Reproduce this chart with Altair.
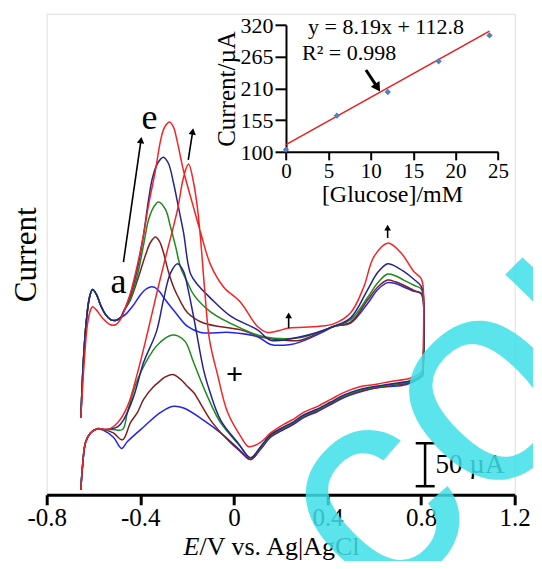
import altair as alt
import pandas as pd

FONT = "Liberation Serif"

# ---------------- main cyclic voltammograms (E in V vs Ag|AgCl, I in µA, arbitrary zero) ----
dark_start_E = [-0.654, -0.643, -0.630, -0.617, -0.604, -0.587, -0.570, -0.549, -0.527, -0.506, -0.485]
dark_start_I = [-137, -70, -23, 3, 12, 6, -6, -17, -23, -24, -21]
red_start_E = [-0.654, -0.639, -0.626, -0.613, -0.604, -0.587, -0.562, -0.527, -0.506, -0.485]
red_start_I = [-137, -70, -29, -12, -8, -12, -21, -29, -29, -23]
end_E = [-0.583, -0.613, -0.634, -0.647, -0.654]
end_I = [-150, -155, -166, -194, -221]

a_fwd_E = [-0.463, -0.429, -0.399, -0.378, -0.356, -0.335, -0.313, -0.301, -0.249, -0.198, -0.142, -0.014, 0.101, 0.157, 0.243, 0.285, 0.384, 0.426, 0.499, 0.572, 0.615, 0.657, 0.690, 0.726, 0.769, 0.800, 0.809]
a_fwd_I = [-17, -6, 6, 12, 15, 14, 8, 3, -15, -31, -38, -38, -43, -52, -52, -49, -37, -31, -27, -4, 12, 20, 19, 15, 10, 8, 0]
a_rev_E = [0.809, 0.806, 0.794, 0.756, 0.713, 0.670, 0.615, 0.542, 0.469, 0.414, 0.358, 0.298, 0.255, 0.213, 0.157, 0.114, 0.071, 0.029, -0.043, -0.130, -0.215, -0.258, -0.313, -0.386, -0.455, -0.480, -0.515, -0.557]
a_rev_I = [-80, -89, -91, -97, -100, -101, -102, -107, -114, -122, -130, -137, -145, -151, -160, -174, -186, -176, -158, -140, -126, -124, -131, -148, -165, -173, -160, -152]

b_fwd_E = [-0.472, -0.442, -0.412, -0.378, -0.356, -0.335, -0.318, -0.301, -0.280, -0.258, -0.228, -0.198, -0.130, 0.029, 0.127, 0.213, 0.285, 0.426, 0.499, 0.572, 0.615, 0.657, 0.690, 0.726, 0.769, 0.800, 0.809]
b_fwd_I = [-14, 0, 23, 52, 67, 73, 68, 55, 33, 15, -2, -15, -27, -35, -44, -47, -47, -31, -26, 0, 15, 23, 21, 17, 11, 7, -1]
b_rev_E = [0.809, 0.806, 0.756, 0.670, 0.542, 0.469, 0.414, 0.358, 0.298, 0.255, 0.213, 0.157, 0.114, 0.071, 0.029, -0.027, -0.100, -0.172, -0.198, -0.230, -0.262, -0.295, -0.326, -0.343, -0.386, -0.412, -0.442, -0.476, -0.515, -0.557]
b_rev_I = [-79, -88, -96, -100, -106, -113, -121, -129, -136, -144, -150, -159, -173, -186, -177, -163, -140, -108, -101, -92, -87, -90, -97, -101, -116, -131, -143, -163, -155, -151]

c_fwd_E = [-0.472, -0.442, -0.412, -0.386, -0.365, -0.343, -0.322, -0.292, -0.271, -0.249, -0.228, -0.198, -0.172, -0.100, 0.029, 0.127, 0.285, 0.426, 0.499, 0.572, 0.615, 0.657, 0.690, 0.726, 0.769, 0.800, 0.809]
c_fwd_I = [-14, 2, 29, 64, 93, 108, 114, 105, 85, 62, 38, 20, 6, -14, -33, -43, -44, -31, -23, 3, 20, 30, 28, 23, 17, 13, 5]
c_rev_E = [0.809, 0.806, 0.756, 0.670, 0.542, 0.469, 0.414, 0.358, 0.298, 0.255, 0.213, 0.157, 0.114, 0.071, 0.029, -0.057, -0.112, -0.172, -0.207, -0.240, -0.262, -0.290, -0.313, -0.343, -0.412, -0.455, -0.476, -0.515, -0.557]
c_rev_I = [-78, -87, -95, -99, -105, -112, -120, -128, -135, -143, -149, -158, -172, -184, -171, -143, -113, -73, -49, -42, -41, -44, -49, -58, -93, -131, -151, -151, -151]

d_fwd_E = [-0.472, -0.442, -0.412, -0.386, -0.365, -0.348, -0.326, -0.301, -0.280, -0.258, -0.237, -0.215, -0.185, -0.150, -0.100, -0.014, 0.101, 0.157, 0.285, 0.426, 0.499, 0.572, 0.615, 0.657, 0.690, 0.726, 0.769, 0.800, 0.809]
d_fwd_I = [-14, 6, 37, 76, 116, 142, 159, 166, 159, 136, 108, 78, 30, 16, 2, -19, -35, -47, -43, -31, -21, 12, 32, 42, 39, 33, 24, 16, 8]
d_rev_E = [0.809, 0.806, 0.756, 0.670, 0.542, 0.469, 0.414, 0.358, 0.298, 0.255, 0.213, 0.157, 0.114, 0.071, 0.016, -0.057, -0.112, -0.130, -0.172, -0.198, -0.215, -0.241, -0.271, -0.301, -0.331, -0.386, -0.429, -0.472, -0.497, -0.557]
d_rev_I = [-77, -86, -94, -98, -104, -111, -119, -127, -134, -142, -148, -157, -171, -184, -166, -140, -99, -81, -20, 15, 33, 42, 31, 0, -37, -73, -113, -140, -148, -151]

e_fwd_E = [-0.472, -0.442, -0.412, -0.386, -0.365, -0.335, -0.313, -0.296, -0.275, -0.258, -0.245, -0.215, -0.177, -0.142, -0.100, -0.044, 0.029, 0.101, 0.144, 0.190, 0.230, 0.300, 0.358, 0.426, 0.499, 0.555, 0.598, 0.657, 0.713, 0.769, 0.800, 0.808]
e_fwd_I = [-15, 8, 41, 76, 110, 151, 186, 201, 207, 201, 188, 150, 112, 78, 41, 15, -3, -31, -38, -36, -33, -32, -31, -28, -15, 15, 50, 66, 55, 33, 25, 17]
e_rev_E = [0.807, 0.804, 0.756, 0.670, 0.615, 0.542, 0.469, 0.414, 0.358, 0.298, 0.255, 0.213, 0.157, 0.114, 0.063, 0.029, -0.027, -0.070, -0.104, -0.125, -0.142, -0.155, -0.172, -0.194, -0.215, -0.241, -0.284, -0.326, -0.369, -0.412, -0.455, -0.497, -0.540]
e_rev_I = [-74, -83, -91, -95, -98, -101, -108, -116, -124, -131, -139, -145, -155, -166, -171, -159, -131, -87, -47, 12, 70, 105, 136, 158, 143, 105, 58, 12, -38, -85, -124, -143, -151]

curve_names = ["a", "b", "c", "d", "e"]
curve_colors = ["#2424F2", "#7E2020", "#1F8A1F", "#24248F", "#F52424"]

x_ticks = [-0.8, -0.4, 0, 0.4, 0.8, 1.2]
x_domain = [-0.8, 1.2]
y_domain = [-227, 333]

# annotations in data coordinates
label_text = ["e", "a"]
label_E = [-0.361, -0.493]
label_I = [212, 21]
plus_E, plus_I = [0.003], [-88]
arrow_E1 = [-0.472, -0.195, 0.234, 0.657]
arrow_I1 = [44, 163, -33, 72]
arrow_E2 = [-0.397, -0.176, 0.234, 0.657]
arrow_I2 = [186, 196, -18, 84]
arrow_ang = [8, 9, 0, 0]
arrow_size = [55, 55, 45, 45]
bar_E1 = [0.817, 0.777, 0.777]
bar_E2 = [0.817, 0.858, 0.858]
bar_I1 = [-167, -167, -217]
bar_I2 = [-217, -167, -217]
bar_label = ["50 µA"]
bar_label_E, bar_label_I = [0.862], [-192]
xtitle_E, xtitle_I = [-0.147], [-288]
wm_text = ["com"]
wm_E, wm_I = [0.633], [-369]

# ---------------- inset: calibration ----------------
glucose = [0, 6, 12, 18, 24]
current = [104, 163, 204, 257, 302]
fit_x = [0, 24]
fit_y = [112.8, 309.4]
inset_xticks = [0, 5, 10, 15, 20, 25]
inset_yticks = [100, 155, 210, 265, 320]
eq_text = ["y = 8.19x + 112.8", "R² = 0.998"]
eq_x = [2.6, 1.9]
eq_y = [316.6, 271.6]
ia_x1, ia_y1, ia_x2, ia_y2 = [9.43], [242], [10.8], [211.6]

W, H = 468, 481

# ---- build tables ----
starts = {"a": (dark_start_E, dark_start_I), "b": (dark_start_E, dark_start_I),
          "c": (dark_start_E, dark_start_I), "d": (dark_start_E, dark_start_I),
          "e": (red_start_E, red_start_I)}
parts = {"a": (a_fwd_E, a_fwd_I, a_rev_E, a_rev_I), "b": (b_fwd_E, b_fwd_I, b_rev_E, b_rev_I),
         "c": (c_fwd_E, c_fwd_I, c_rev_E, c_rev_I), "d": (d_fwd_E, d_fwd_I, d_rev_E, d_rev_I),
         "e": (e_fwd_E, e_fwd_I, e_rev_E, e_rev_I)}
rows = []
for name in curve_names:
    sE, sI = starts[name]
    fE, fI, rE, rI = parts[name]
    Es = sE + fE + rE + end_E
    Is = sI + fI + rI + end_I
    for k, (e, i) in enumerate(zip(Es, Is)):
        rows.append({"curve": name, "E": e, "I": i, "k": k})
cv = pd.DataFrame(rows)

xs = alt.Scale(domain=x_domain, nice=False, zero=False)
ys = alt.Scale(domain=y_domain, nice=False, zero=False)
X_AX = alt.Axis(orient="bottom", values=x_ticks, title=None, grid=False, tickSize=10, tickWidth=3,
                tickColor="black", domainWidth=3, domainColor="black", labelFont=FONT, labelFontSize=25,
                labelColor="black", labelPadding=1, labelFlush=False, labelOverlap=False,
                labelExpr="datum.value == 0 ? '0' : (datum.value < 0 ? '-' + format(-datum.value, '.1f') : format(datum.value, '.1f'))")
Y_AX = alt.Axis(orient="left", title="Current", labels=False, ticks=False, domain=False, grid=False,
                titleFont=FONT, titleFontSize=31, titleFontWeight="normal", titleColor="black", titlePadding=4)


def X(f="E"):
    return alt.X(f"{f}:Q", scale=xs, axis=X_AX)


def Y(f="I"):
    return alt.Y(f"{f}:Q", scale=ys, axis=Y_AX)


lines = alt.Chart(cv).mark_line(strokeWidth=1.5, interpolate="catmull-rom").encode(
    x=X(), y=Y(),
    color=alt.Color("curve:N", scale=alt.Scale(domain=curve_names, range=curve_colors), legend=None),
    order="k:Q")

lab_df = pd.DataFrame({"E": label_E, "I": label_I, "t": label_text})
labels = alt.Chart(lab_df).mark_text(font=FONT, fontSize=36, color="black", baseline="middle").encode(
    x=X(), y=Y(), text="t:N")
plus = alt.Chart(pd.DataFrame({"E": plus_E, "I": plus_I})).mark_text(
    text="+", font=FONT, fontSize=30, fontWeight="bold", color="black", baseline="middle").encode(x=X(), y=Y())

arr_df = pd.DataFrame({"E": arrow_E1, "I": arrow_I1, "E2": arrow_E2, "I2": arrow_I2,
                       "ang": arrow_ang, "sz": arrow_size})
shafts = alt.Chart(arr_df).mark_rule(color="black", strokeWidth=1.6).encode(
    x=X(), y=Y(), x2="E2:Q", y2="I2:Q")
heads = alt.Chart(arr_df).mark_point(shape="triangle-up", filled=True, color="black", opacity=1).encode(
    x=X("E2"), y=Y("I2"), angle=alt.Angle("ang:Q", scale=None), size=alt.Size("sz:Q", scale=None))

bar_df = pd.DataFrame({"E": bar_E1, "E2": bar_E2, "I": bar_I1, "I2": bar_I2})
bar = alt.Chart(bar_df).mark_rule(color="black", strokeWidth=2.5).encode(x=X(), y=Y(), x2="E2:Q", y2="I2:Q")
bar_txt = alt.Chart(pd.DataFrame({"E": bar_label_E, "I": bar_label_I, "t": bar_label})).mark_text(
    font=FONT, fontSize=27, align="left", baseline="middle", color="black").encode(x=X(), y=Y(), text="t:N")

xt_df = pd.DataFrame({"E": xtitle_E, "I": xtitle_I})
xt1 = alt.Chart(xt_df).mark_text(text="E", font=FONT, fontSize=26, fontStyle="italic", align="right",
                                 baseline="middle", color="black").encode(x=X(), y=Y())
xt2 = alt.Chart(xt_df).mark_text(text="/V vs. Ag|AgCl", font=FONT, fontSize=26, align="left",
                                 baseline="middle", color="black").encode(x=X(), y=Y())

wm = alt.Chart(pd.DataFrame({"E": wm_E, "I": wm_I, "t": wm_text})).mark_text(
    font="Liberation Sans", fontSize=293, angle=315, align="left", baseline="alphabetic",
    color="#3FE0E8", opacity=0.85).encode(x=X(), y=Y(), text="t:N")

main = alt.layer(lines, shafts, heads, labels, plus, bar, bar_txt, xt1, xt2, wm)

# ---- inset ----
gs = alt.Scale(domain=[0, 25], range=[239.3, 451.3], nice=False, zero=False)
cs = alt.Scale(domain=[100, 320], range=[138.2, 11.2], nice=False, zero=False)
GX_AX = alt.Axis(orient="bottom", offset=-343, values=inset_xticks, title="[Glucose]/mM", grid=False,
                 tickSize=8, tickWidth=2, tickColor="black", domainWidth=2, domainColor="black",
                 labelFont=FONT, labelFontSize=21, labelColor="black", labelPadding=1, labelFlush=False,
                 labelOverlap=False, titleFont=FONT, titleFontSize=24, titleFontWeight="normal",
                 titleColor="black", titlePadding=1)
GY_AX = alt.Axis(orient="left", offset=-239.3, values=inset_yticks, title="Current/µA", grid=False,
                 tickSize=11, tickWidth=2, tickColor="black", domainWidth=2, domainColor="black",
                 labelFont=FONT, labelFontSize=22, labelColor="black", labelPadding=2, labelFlush=False,
                 labelOverlap=False, titleFont=FONT, titleFontSize=25, titleFontWeight="normal",
                 titleColor="black", titlePadding=0)


def GX(f="g"):
    return alt.X(f"{f}:Q", scale=gs, axis=GX_AX)


def GY(f="c"):
    return alt.Y(f"{f}:Q", scale=cs, axis=GY_AX)


fit = alt.Chart(pd.DataFrame({"g": fit_x, "c": fit_y})).mark_line(color="#E82020", strokeWidth=1.6).encode(
    x=GX(), y=GY())
pts = alt.Chart(pd.DataFrame({"g": glucose, "c": current})).mark_point(
    shape="diamond", filled=True, color="#4F81BD", size=40, opacity=1).encode(x=GX(), y=GY())
eq = alt.Chart(pd.DataFrame({"g": eq_x, "c": eq_y, "t": eq_text})).mark_text(
    font=FONT, fontSize=22, align="left", baseline="middle", color="black").encode(x=GX(), y=GY(), text="t:N")
ia_df = pd.DataFrame({"g": ia_x1, "c": ia_y1, "g2": ia_x2, "c2": ia_y2, "ang": [147]})
ia_shaft = alt.Chart(ia_df).mark_rule(color="black", strokeWidth=3).encode(x=GX(), y=GY(), x2="g2:Q", y2="c2:Q")
ia_head = alt.Chart(ia_df).mark_point(shape="triangle-up", filled=True, color="black", size=110, opacity=1).encode(
    x=GX("g2"), y=GY("c2"), angle=alt.Angle("ang:Q", scale=None))

inset = alt.layer(fit, pts, eq, ia_shaft, ia_head)

chart = alt.layer(main, inset).resolve_scale(x="independent", y="independent").properties(
    width=W, height=H,
    padding={"left": 38.7, "top": 5.8, "right": 18, "bottom": 66},
    autosize=alt.AutoSizeParams(type="none"),
).configure_view(stroke="black", strokeWidth=3).configure(background="white")

chart.save("out.html", embed_options={"renderer": "svg", "actions": False})
